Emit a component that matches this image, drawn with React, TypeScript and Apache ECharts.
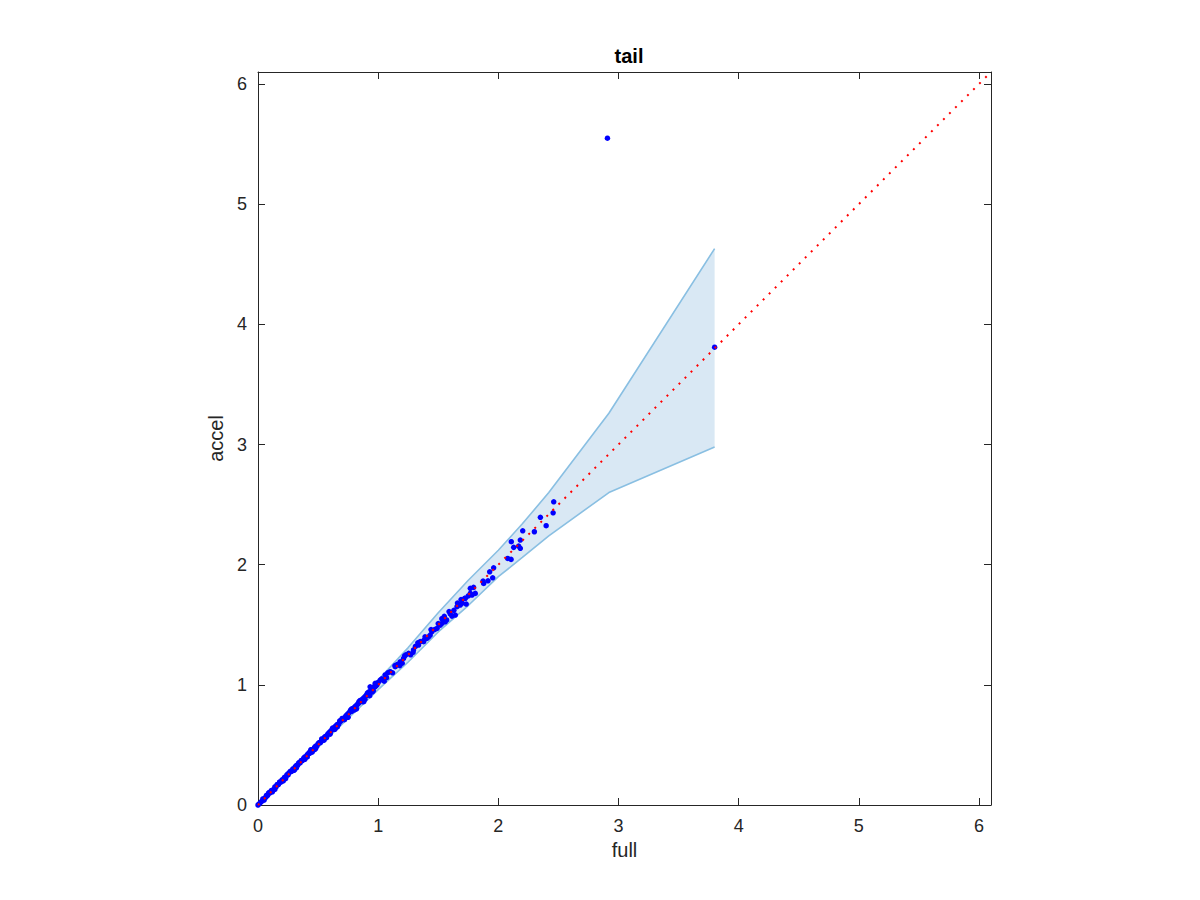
import React, { useEffect, useRef } from "react";
import * as echarts from "echarts";

const titleText = "tail";
const xName = "full";
const yName = "accel";

const bandX = [0, 0.25, 0.5, 0.75, 1.0, 1.25, 1.5, 1.75, 2.0, 2.2, 2.42, 2.92, 3.8];
const bandUpper = [0, 0.26, 0.52, 0.78, 1.04, 1.31, 1.6, 1.87, 2.12, 2.34, 2.6, 3.26, 4.63];
const bandLower = [0, 0.24, 0.48, 0.72, 0.96, 1.19, 1.44, 1.66, 1.9, 2.06, 2.24, 2.6, 2.98];

const fullVals = [
  0.0, 0.01, 0.02, 0.03, 0.04, 0.05, 0.06, 0.07, 0.08, 0.09, 0.1, 0.11, 0.12, 0.13, 0.14, 0.15, 0.16, 0.17, 0.18, 0.19,
  0.2, 0.21, 0.22, 0.23, 0.24, 0.25, 0.26, 0.27, 0.28, 0.29, 0.3, 0.31, 0.32, 0.33, 0.34, 0.35, 0.36, 0.37, 0.38, 0.39,
  0.4, 0.41, 0.42, 0.43, 0.44, 0.45, 0.46, 0.47, 0.48, 0.49, 0.5, 0.51, 0.52, 0.53, 0.54, 0.55, 0.56, 0.57, 0.58, 0.59,
  0.6, 0.61, 0.62, 0.63, 0.64, 0.65, 0.66, 0.67, 0.68, 0.69, 0.7, 0.71, 0.72, 0.73, 0.74, 0.75, 0.76, 0.77, 0.78, 0.79,
  0.8, 0.81, 0.82, 0.83, 0.84, 0.85, 0.86, 0.87, 0.88, 0.89, 0.9, 0.91, 0.92, 0.93, 0.94, 0.95, 0.96, 0.97, 0.98, 0.99, 1.0,
  0.3, 0.45, 0.6, 0.75, 0.82, 0.88, 0.93,
  0.05, 0.09, 0.14, 0.18, 0.23, 0.27, 0.32, 0.36, 0.41, 0.44, 0.48, 0.53, 0.57, 0.62, 0.66, 0.7, 0.74, 0.78, 0.81,
  0.85, 0.89, 0.92, 0.96, 0.99,
  0.07, 0.12, 0.16, 0.21, 0.25, 0.3, 0.34, 0.39, 0.43, 0.47, 0.51, 0.55, 0.6, 0.64, 0.68, 0.72, 0.77, 0.8, 0.84, 0.87,
  0.91, 0.95, 0.98,
  0.933, 0.975, 1.017, 1.058, 1.1, 1.142, 1.183, 1.211, 1.253, 1.294, 1.336, 1.378, 1.406, 1.433, 1.447, 1.517, 1.531,
  1.544, 1.558, 1.614, 1.642, 1.656, 1.683, 1.733, 1.767, 1.794,
  1.05, 1.08, 1.12, 1.16, 1.2, 1.23, 1.27, 1.31, 1.35, 1.39, 1.42, 1.47, 1.5, 1.53, 1.55, 1.57, 1.6, 1.66, 1.7, 1.72, 1.75,
  1.03, 1.07, 1.14, 1.18, 1.22, 1.29, 1.33, 1.38, 1.44, 1.49, 1.59, 1.63, 1.69,
  1.725, 1.781, 1.808, 1.767, 1.878, 1.914, 1.873, 1.953, 1.928, 1.961, 2.106, 2.078, 2.183, 2.169, 2.128, 2.108, 2.183,
  2.203, 2.3, 2.398, 2.35, 2.456, 2.461,
  2.908, 3.8,
];
const accelVals = [
  0.0, 0.01, 0.02, 0.03, 0.05, 0.05, 0.06, 0.07, 0.08, 0.1, 0.1, 0.12, 0.12, 0.13, 0.15, 0.15, 0.17, 0.17, 0.19, 0.19,
  0.21, 0.21, 0.23, 0.23, 0.25, 0.25, 0.27, 0.28, 0.28, 0.3, 0.3, 0.32, 0.33, 0.33, 0.35, 0.35, 0.37, 0.37, 0.39, 0.4,
  0.4, 0.42, 0.43, 0.43, 0.45, 0.46, 0.46, 0.48, 0.49, 0.49, 0.51, 0.52, 0.52, 0.54, 0.54, 0.56, 0.57, 0.57, 0.59, 0.6,
  0.6, 0.62, 0.63, 0.63, 0.65, 0.66, 0.67, 0.67, 0.69, 0.7, 0.71, 0.72, 0.72, 0.74, 0.75, 0.76, 0.77, 0.78, 0.78, 0.8,
  0.81, 0.82, 0.83, 0.84, 0.85, 0.86, 0.87, 0.88, 0.89, 0.9, 0.91, 0.92, 0.93, 0.94, 0.95, 0.96, 0.98, 0.98, 0.99, 1.0, 1.02,
  0.29, 0.44, 0.59, 0.73, 0.8, 0.86, 0.91,
  0.04, 0.1, 0.13, 0.19, 0.22, 0.28, 0.31, 0.37, 0.4, 0.46, 0.47, 0.55, 0.56, 0.64, 0.65, 0.72, 0.73, 0.8, 0.8,
  0.87, 0.88, 0.94, 0.95, 1.01,
  0.08, 0.11, 0.17, 0.2, 0.26, 0.29, 0.35, 0.38, 0.44, 0.46, 0.52, 0.54, 0.61, 0.63, 0.7, 0.71, 0.79, 0.79, 0.86, 0.86,
  0.93, 0.94, 1.0,
  0.984, 1.012, 1.04, 1.082, 1.109, 1.151, 1.192, 1.22, 1.262, 1.29, 1.331, 1.359, 1.387, 1.414, 1.442, 1.497, 1.512,
  1.553, 1.525, 1.572, 1.581, 1.65, 1.664, 1.672, 1.761, 1.811,
  1.03, 1.1, 1.1, 1.17, 1.18, 1.25, 1.25, 1.32, 1.36, 1.4, 1.4, 1.46, 1.51, 1.55, 1.57, 1.54, 1.59, 1.68, 1.68, 1.72, 1.74,
  1.05, 1.06, 1.16, 1.16, 1.24, 1.27, 1.35, 1.37, 1.46, 1.47, 1.61, 1.62, 1.71,
  1.72, 1.747, 1.761, 1.803, 1.844, 1.866, 1.864, 1.891, 1.941, 1.974, 2.044, 2.052, 2.136, 2.155, 2.144, 2.191, 2.205,
  2.282, 2.274, 2.324, 2.394, 2.432, 2.523,
  5.549, 3.81,
];

const refLine = [0, 6.1];
const tickFont = "'Liberation Sans', Arial, Helvetica, sans-serif";

export default function App() {
  const ref = useRef<HTMLDivElement>(null);
  useEffect(() => {
    if (!ref.current) return;
    const chart = echarts.init(ref.current, null, { renderer: "svg" });
    const axisCommon = {
      type: "value" as const,
      min: 0,
      max: 6.1,
      interval: 1,
      splitLine: { show: false },
      axisLine: { show: true, onZero: false, lineStyle: { color: "#262626", width: 1 } },
      axisTick: { show: true, inside: true, length: 7, lineStyle: { color: "#262626", width: 1 } },
    };
    const labelFmt = (v: number) => (Number.isInteger(v) ? String(v) : "");
    chart.setOption({
      animation: false,
      backgroundColor: "#ffffff",
      title: {
        text: titleText,
        left: 624,
        top: 41,
        textAlign: "center",
        textStyle: { fontFamily: tickFont, fontSize: 20, fontWeight: "bold", color: "#000" },
      },
      grid: { left: 258, right: 209, top: 72, bottom: 95, containLabel: false },
      xAxis: [
        {
          ...axisCommon,
          position: "bottom",
          name: xName,
          nameLocation: "middle",
          nameGap: 34,
          nameTextStyle: { fontFamily: tickFont, fontSize: 20, color: "#262626" },
          axisLabel: { formatter: labelFmt, margin: 12, fontFamily: tickFont, fontSize: 18, color: "#262626" },
        },
        { ...axisCommon, position: "top", axisLabel: { show: false } },
      ],
      yAxis: [
        {
          ...axisCommon,
          position: "left",
          name: yName,
          nameLocation: "middle",
          nameGap: 30,
          nameTextStyle: { fontFamily: tickFont, fontSize: 20, color: "#262626" },
          axisLabel: { formatter: labelFmt, margin: 11, fontFamily: tickFont, fontSize: 18, color: "#262626" },
        },
        { ...axisCommon, position: "right", axisLabel: { show: false } },
      ],
      series: [
        {
          type: "custom",
          xAxisIndex: 0,
          yAxisIndex: 0,
          silent: true,
          z: 1,
          data: [[0, 0]],
          renderItem: (_params: any, api: any) => {
            const pts: number[][] = [];
            for (let i = 0; i < bandX.length; i++) pts.push(api.coord([bandX[i], bandUpper[i]]));
            for (let i = bandX.length - 1; i >= 0; i--) pts.push(api.coord([bandX[i], bandLower[i]]));
            return { type: "polygon", shape: { points: pts }, style: { fill: "#d9e8f4", stroke: "none" } };
          },
        },
        {
          type: "line",
          z: 2,
          silent: true,
          showSymbol: false,
          symbol: "none",
          data: bandX.map((x, i) => [x, bandUpper[i]]),
          lineStyle: { color: "#89bfe2", width: 1.6 },
        },
        {
          type: "line",
          z: 2,
          silent: true,
          showSymbol: false,
          symbol: "none",
          data: bandX.map((x, i) => [x, bandLower[i]]),
          lineStyle: { color: "#89bfe2", width: 1.6 },
        },
        {
          type: "scatter",
          z: 3,
          symbol: "circle",
          symbolSize: 5.5,
          itemStyle: { color: "#0000ff", opacity: 1 },
          data: fullVals.map((x, i) => [x, accelVals[i]]),
        },
        {
          type: "line",
          z: 4,
          silent: true,
          showSymbol: false,
          symbol: "none",
          data: refLine.map((v) => [v, v]),
          lineStyle: { color: "#ff0000", width: 2, type: [2, 6.5] },
        },
      ],
    });
    return () => chart.dispose();
  }, []);
  return <div ref={ref} style={{ position: "fixed", left: 0, top: 0, width: 1200, height: 900 }} />;
}
